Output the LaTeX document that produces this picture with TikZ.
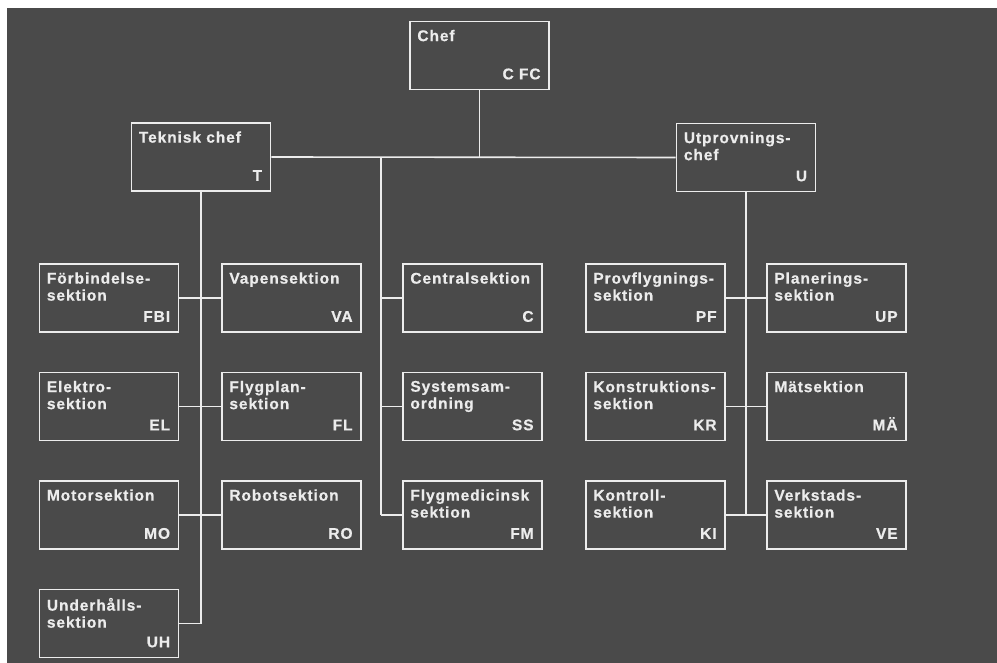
\documentclass[tikz,border=0pt]{standalone}
\usepackage{fontspec}
\setmainfont{Liberation Sans}
\newfontfamily\orgfont[LetterSpace=6, FakeBold=0.6]{Liberation Sans}

\definecolor{board}{RGB}{74,74,74}
\definecolor{chalk}{RGB}{236,236,236}

\tikzset{
    unit/.style={draw=chalk, line width=1.6pt, minimum width=139pt, minimum height=68pt, inner sep=0pt},
    title/.style={anchor=north west, inner sep=0pt, align=left, text=chalk,
        font=\orgfont\bfseries\fontsize{15.5}{17}\selectfont},
    code/.style={anchor=base east, inner sep=0pt, text=chalk,
        font=\orgfont\bfseries\fontsize{15.5}{17}\selectfont},
    link/.style={draw=chalk, line width=1.6pt}
}

% box with title top left and code bottom right
\newcommand{\orgbox}[5]{%
    \node[unit] (#1) at (#2,#3) {};
    \node[title] at ([shift={(8,9)}]#1.north west) {#4};
    \node[code] at ([shift={(-9,-11)}]#1.south east) {#5};
}

\begin{document}
\begin{tikzpicture}[x=1pt, y=-1pt]
    % Background
    \fill[white] (0,0) rectangle (997,663);
    \fill[board] (7,8) rectangle (997,663);
    \useasboundingbox (0,0) rectangle (997,663);

    % Heads
    \orgbox{chef}{479.5}{55.5}{Chef}{C FC}
    \orgbox{tek}{201}{157}{Teknisk chef}{T}
    \orgbox{utp}{746}{157.5}{Utprovnings-\\chef}{U}

    % Sections
    \foreach \n/\x/\y/\t/\c in {
        fbi/109/298/{Förbindelse-\\sektion}/FBI,
        el/109/406.5/{Elektro-\\sektion}/EL,
        mo/109/515/{Motorsektion}/MO,
        uh/109/623.5/{Underhålls-\\sektion}/UH,
        va/291.5/298/{Vapensektion}/VA,
        fl/291.5/406.5/{Flygplan-\\sektion}/FL,
        ro/291.5/515/{Robotsektion}/RO,
        cen/472.5/298/{Centralsektion}/C,
        ss/472.5/406.5/{Systemsam-\\ordning}/SS,
        fm/472.5/515/{Flygmedicinsk\\sektion}/FM,
        pf/655.5/298/{Provflygnings-\\sektion}/PF,
        kr/655.5/406.5/{Konstruktions-\\sektion}/KR,
        ki/655.5/515/{Kontroll-\\sektion}/KI,
        up/836.5/298/{Planerings-\\sektion}/UP,
        ma/836.5/406.5/{Mätsektion}/MÄ,
        ve/836.5/515/{Verkstads-\\sektion}/VE}
        \orgbox{\n}{\x}{\y}{\t}{\c};

    % Top links
    \draw[link] (tek.east) -- (utp.west);
    \draw[link] (chef.south) -- (chef.south |- tek.east);

    % Left spine
    \draw[link] (tek.south) -- (tek.south |- uh.east);
    \draw[link] (fbi.east) -- (va.west);
    \draw[link] (el.east) -- (fl.west);
    \draw[link] (mo.east) -- (ro.west);
    \draw[link] (uh.east) -- (uh.east -| tek.south);

    % Centre spine
    \coordinate (cspine) at ([xshift=-21pt]cen.west |- tek.east);
    \draw[link] (cspine) -- (cspine |- fm.west);
    \draw[link] (cen.west) -- (cen.west -| cspine);
    \draw[link] (ss.west) -- (ss.west -| cspine);
    \draw[link] (fm.west) -- (fm.west -| cspine);

    % Right spine
    \draw[link] (utp.south) -- (utp.south |- ki.east);
    \draw[link] (pf.east) -- (up.west);
    \draw[link] (kr.east) -- (ma.west);
    \draw[link] (ki.east) -- (ve.west);
\end{tikzpicture}
\end{document}
